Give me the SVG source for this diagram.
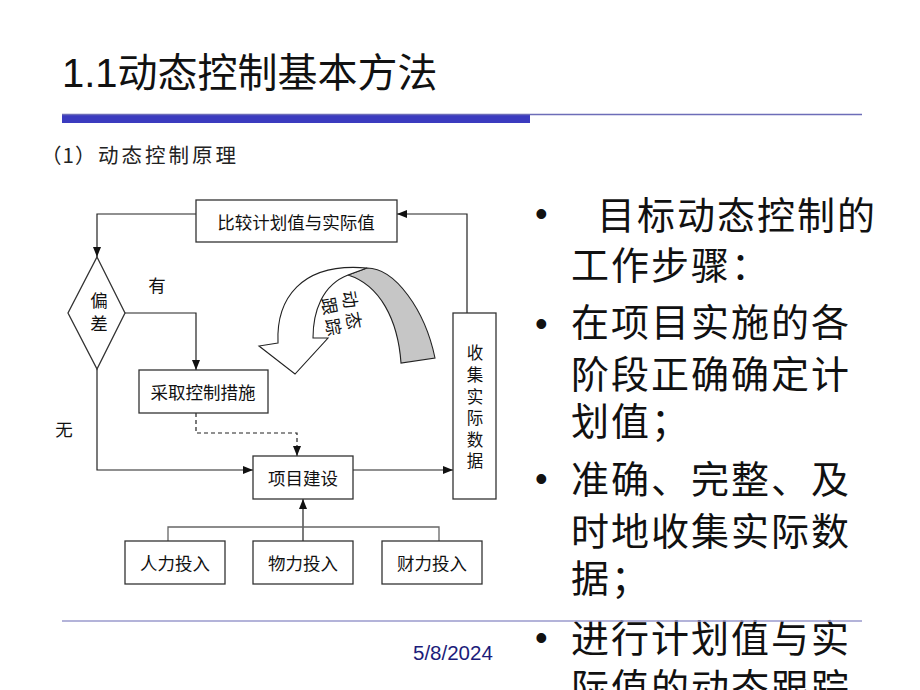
<svg xmlns="http://www.w3.org/2000/svg" width="920" height="690" viewBox="0 0 920 690">
<defs>
<marker id="ah" markerUnits="userSpaceOnUse" markerWidth="10" markerHeight="10" viewBox="0 0 10 10" refX="10" refY="5" orient="auto">
<path d="M0,1 L10,5 L0,9 Z" fill="#111"/>
</marker>
</defs>
<style>
.box{fill:#fff;stroke:#333;stroke-width:1.3}
.ln{fill:none;stroke:#222;stroke-width:1.2}
.dash{fill:none;stroke:#222;stroke-width:1.2;stroke-dasharray:4 3}
.t{font-family:"Noto Sans CJK SC","Liberation Sans",sans-serif;font-size:17.5px;fill:#111;text-anchor:middle}
.v{font-size:16.5px}
.big{font-family:"Noto Sans CJK SC","Liberation Sans",sans-serif;font-size:38px;letter-spacing:2px;fill:#111}
.bul{font-family:"Liberation Sans",sans-serif;font-size:36px;fill:#111}
.sub{font-family:"Noto Sans CJK SC","Liberation Sans",sans-serif;font-size:20.5px;fill:#222}
</style>
<rect width="920" height="690" fill="#fff"/>

<g id="header">
<text x="62" y="87" font-family="Liberation Sans,Noto Sans CJK SC,sans-serif" font-size="40" fill="#111">1.1动态控制基本方法</text>
<rect x="62" y="114" width="468" height="9" fill="#3b3bbf"/>
<line x1="62" y1="114.5" x2="862" y2="114.5" stroke="#6d6db8" stroke-width="1.5"/>
<text class="sub" x="41" y="162.5" letter-spacing="1">（1）<tspan x="98" letter-spacing="3">动态控制原理</tspan></text>
</g>

<g id="connectors">
<polyline class="ln" points="196,214 97,214 97,257" marker-end="url(#ah)"/>
<polyline class="ln" points="125,313 196,313 196,370" marker-end="url(#ah)"/>
<polyline class="ln" points="97,369 97,470 253,470" marker-end="url(#ah)"/>
<polyline class="dash" points="196,413 196,433 297,433 297,456" marker-end="url(#ah)"/>
<line class="ln" x1="353" y1="470" x2="453" y2="470" marker-end="url(#ah)"/>
<polyline class="ln" points="467,313 467,214 397,214" marker-end="url(#ah)"/>
<line class="ln" x1="303" y1="541" x2="303" y2="499" marker-end="url(#ah)"/>
<polyline fill="none" stroke="#666" stroke-width="1.3" points="168,541 168,527 439,527 439,541"/>
</g>

<g id="compare">
<rect class="box" x="196" y="200" width="201" height="42"/>
<text class="t" x="296" y="228.5">比较计划值与实际值</text>
</g>

<g id="deviation">
<polygon class="box" points="97,257 125,313 97,369 68,313"/>
<text class="t" x="99" y="306.5">偏</text>
<text class="t" x="99" y="329.5">差</text>
</g>

<g id="label-you"><text class="t" x="157" y="291.5">有</text></g>
<g id="label-wu"><text class="t" x="64" y="435.5">无</text></g>

<g id="measures">
<rect class="box" x="139" y="370" width="129" height="43"/>
<text class="t" x="203" y="398.5">采取控制措施</text>
</g>

<g id="project">
<rect class="box" x="253" y="456" width="100" height="43"/>
<text class="t" x="303" y="484.5">项目建设</text>
</g>

<g id="collect">
<rect class="box" x="453" y="313" width="43" height="186"/>
<text class="t v" x="475" y="359">收</text>
<text class="t v" x="475" y="381">集</text>
<text class="t v" x="475" y="403">实</text>
<text class="t v" x="475" y="424">际</text>
<text class="t v" x="475" y="446">数</text>
<text class="t v" x="475" y="467">据</text>
</g>

<g id="human">
<rect class="box" x="125" y="541" width="100" height="43"/>
<text class="t" x="175" y="569.5">人力投入</text>
</g>
<g id="material">
<rect class="box" x="253" y="541" width="100" height="43"/>
<text class="t" x="303" y="569.5">物力投入</text>
</g>
<g id="finance">
<rect class="box" x="382" y="541" width="100" height="43"/>
<text class="t" x="432" y="569.5">财力投入</text>
</g>

<g id="tracking-arrow">
<path d="M348,275 L367,268 C395,268 425,310 435,358 L401,363 C398,320 380,285 348,275 Z" fill="#c6c6c6" stroke="#222" stroke-width="1.1"/>
<path d="M278,343 L259,346 L295,374 L328,338 L313,338 C313,312 322,285 348,275 L367,268 C300,262 276,300 278,343 Z" fill="#fff" stroke="#222" stroke-width="1.1"/>
<text class="t" font-size="17" letter-spacing="4" transform="translate(351.5,310) rotate(80)" x="2" y="6.3">动态</text>
<text class="t" font-size="17" letter-spacing="4" transform="translate(331,316.5) rotate(80)" x="2" y="6.3">跟踪</text>
</g>

<g id="bullets">
<text class="bul" x="535" y="226">•</text>
<text class="big" x="597" y="229">目标动态控制的</text>
<text class="big" x="571" y="279">工作步骤：</text>
<text class="bul" x="535" y="336">•</text>
<text class="big" x="571" y="336">在项目实施的各</text>
<text class="big" x="571" y="388">阶段正确确定计</text>
<text class="big" x="571" y="435">划值；</text>
<text class="bul" x="535" y="491">•</text>
<text class="big" x="571" y="493">准确、完整、及</text>
<text class="big" x="571" y="545">时地收集实际数</text>
<text class="big" x="571" y="592">据；</text>
<text class="bul" x="535" y="650">•</text>
<text class="big" x="571" y="652">进行计划值与实</text>
<text class="big" x="571" y="701">际值的动态跟踪</text>
</g>

<g id="footer">
<line x1="62" y1="621" x2="862" y2="621" stroke="#9a9acc" stroke-width="1.5"/>
<text x="413" y="660" font-family="Liberation Sans,sans-serif" font-size="20.5" fill="#1c1c7a">5/8/2024</text>
</g>
</svg>
